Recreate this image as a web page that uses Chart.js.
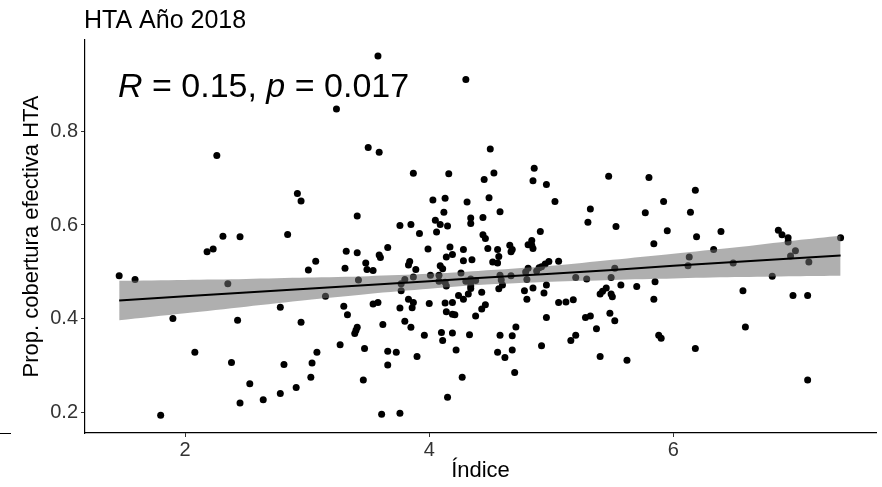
<!DOCTYPE html>
<html>
<head>
<meta charset="utf-8">
<script src="https://cdn.jsdelivr.net/npm/chart.js@4.4.1/dist/chart.umd.min.js"></script>
<style>
  html, body { margin: 0; padding: 0; background: #ffffff; }
  #wrap { width: 882px; height: 487px; }
</style>
</head>
<body>
<div id="wrap"><canvas id="c" width="882" height="487"></canvas></div>
<script>
// ---- data ----
const titleText = "HTA Año 2018";
const xTitle = "Índice";
const yTitle = "Prop. cobertura efectiva HTA";
const statR = "0.15";
const statP = "0.017";
const xTicks = [2, 4, 6];
const yTicks = [0.2, 0.4, 0.6, 0.8];

const indice = [
  1.46,1.59,2.26,2.31,2.45,2.18,2.23,2.35,2.78,1.90,2.43,2.08,2.38,2.81,2.53,2.45,2.64,2.78,1.80,
  3.58,4.30,3.24,3.50,3.59,3.87,4.16,2.92,2.95,4.03,4.13,4.31,4.12,3.41,4.34,
  4.34,4.05,4.09,4.15,3.76,3.85,3.92,4.06,2.84,3.99,4.17,4.28,3.66,3.32,3.41,3.59,3.60,4.19,4.14,4.28,
  4.35,3.07,3.48,3.84,3.83,4.09,4.11,3.01,3.31,3.49,3.54,3.89,4.26,4.01,4.08,3.87,3.80,3.42,4.08,4.13,
  4.14,4.30,4.34,4.34,4.38,3.77,4.34,4.34,3.77,3.15,4.24,4.32,4.28,3.83,3.87,3.86,3.54,3.58,4.00,4.13,
  4.19,3.30,3.76,3.33,4.14,4.19,4.21,4.38,3.80,2.95,3.62,3.85,3.41,3.40,3.39,3.96,4.10,4.11,4.19,4.33,
  3.27,3.47,3.08,3.66,3.73,4.22,3.90,3.04,3.66,3.03,3.46,4.27,2.91,4.15,3.61,3.76,
  4.50,4.86,4.53,4.45,4.85,4.96,5.47,5.80,4.49,5.03,5.92,4.58,5.32,5.77,4.44,
  5.30,5.53,5.95,4.91,4.44,4.46,4.48,4.56,4.66,4.68,4.67,4.81,4.84,4.84,4.85,5.84,4.52,4.56,4.57,5.06,
  4.98,4.95,4.92,4.90,4.81,4.79,4.80,4.88,5.52,4.58,4.59,4.60,4.57,4.67,5.20,5.29,5.49,5.85,5.57,5.70,
  4.78,4.85,4.96,4.94,4.43,5.45,5.42,5.40,5.49,5.50,4.80,5.06,5.12,5.18,5.84,4.46,4.43,4.96,5.28,5.32,
  5.48,5.52,4.71,5.37,4.58,4.68,5.20,5.16,5.88,5.90,4.92,4.56,4.62,4.68,5.40,5.62,4.70,
  6.18,6.14,6.19,6.39,6.86,6.89,6.94,6.94,7.37,6.33,6.13,6.12,6.49,7.00,6.96,7.11,6.81,6.57,6.98,7.10,
  6.59,6.18,7.10
];
const cobertura = [
  0.492,0.484,0.748,0.576,0.575,0.543,0.549,0.475,0.425,0.401,0.397,0.329,0.307,0.303,0.262,0.221,0.228,0.241,0.195,
  0.960,0.910,0.847,0.765,0.755,0.710,0.709,0.667,0.651,0.653,0.657,0.649,0.627,0.619,0.615,
  0.603,0.610,0.601,0.598,0.599,0.601,0.582,0.585,0.580,0.549,0.553,0.548,0.552,0.544,0.541,0.536,0.531,0.537,0.532,0.524,
  0.526,0.523,0.519,0.522,0.515,0.513,0.507,0.504,0.508,0.505,0.503,0.505,0.498,0.493,0.493,0.489,0.484,0.483,0.480,0.478,
  0.470,0.480,0.485,0.478,0.482,0.475,0.470,0.465,0.460,0.448,0.450,0.453,0.442,0.442,0.435,0.424,0.432,0.435,0.433,0.434,
  0.435,0.427,0.423,0.409,0.415,0.410,0.409,0.406,0.395,0.393,0.388,0.382,0.382,0.376,0.369,0.365,0.371,0.354,0.370,0.366,
  0.345,0.337,0.329,0.331,0.329,0.334,0.320,0.306,0.302,0.276,0.270,0.276,0.254,0.233,0.197,0.199,
  0.762,0.721,0.711,0.697,0.694,0.686,0.704,0.701,0.658,0.650,0.650,0.628,0.634,0.626,0.616,
  0.606,0.597,0.588,0.586,0.579,0.571,0.550,0.548,0.557,0.548,0.543,0.558,0.567,0.557,0.550,0.560,0.521,0.519,0.533,0.523,
  0.522,0.517,0.511,0.509,0.508,0.500,0.484,0.502,0.508,0.493,0.483,0.472,0.464,0.492,0.488,0.485,0.488,0.479,0.472,0.469,
  0.460,0.466,0.472,0.455,0.457,0.466,0.459,0.453,0.453,0.447,0.442,0.435,0.436,0.441,0.442,0.430,0.421,0.403,0.403,0.406,
  0.412,0.396,0.383,0.379,0.365,0.364,0.365,0.354,0.365,0.359,0.343,0.329,0.318,0.334,0.320,0.312,0.286,
  0.674,0.627,0.575,0.586,0.589,0.579,0.573,0.564,0.573,0.548,0.532,0.513,0.519,0.545,0.534,0.521,0.491,0.460,0.450,0.450,
  0.383,0.337,0.270
];

// fitted regression line and its confidence band
const fitX     = [1.46, 2.0, 2.5, 3.0, 3.5, 4.0, 4.4, 5.0, 5.5, 6.0, 6.5, 7.0, 7.37];
const fitY     = [0.439, 0.448, 0.456, 0.464, 0.472, 0.480, 0.487, 0.496, 0.504, 0.513, 0.521, 0.529, 0.535];
const bandLow  = [0.397, 0.412, 0.426, 0.440, 0.453, 0.464, 0.472, 0.479, 0.483, 0.486, 0.489, 0.491, 0.492];
const bandHigh = [0.481, 0.483, 0.485, 0.488, 0.491, 0.496, 0.502, 0.513, 0.526, 0.539, 0.552, 0.567, 0.577];

// ---- build chart ----
const FONT = "'Liberation Sans', Arial, Helvetica, sans-serif";
const pts = indice.map((x, i) => ({x: x, y: cobertura[i]}));
const toXY = (ys) => fitX.map((x, i) => ({x: x, y: ys[i]}));

const overlay = {
  id: 'overlay',
  afterDraw(chart) {
    const ctx = chart.ctx;
    ctx.save();
    // title
    ctx.fillStyle = '#000000';
    ctx.textBaseline = 'alphabetic';
    ctx.textAlign = 'left';
    ctx.font = '25px ' + FONT;
    ctx.fillText(titleText, 84, 28);
    // correlation annotation with italic R and p
    const size = 34;
    const parts = [
      ['R', true], [' = ' + statR + ', ', false], ['p', true], [' = ' + statP, false]
    ];
    let x = 118;
    const y = 97;
    parts.forEach(([t, it]) => {
      ctx.font = (it ? 'italic ' : '') + size + 'px ' + FONT;
      ctx.fillText(t, x, y);
      x += ctx.measureText(t).width;
    });
    // small stray line at left edge of the original figure
    ctx.strokeStyle = '#000000';
    ctx.lineWidth = 1;
    ctx.beginPath();
    ctx.moveTo(0, 433.5);
    ctx.lineTo(11, 433.5);
    ctx.stroke();
    ctx.restore();
  }
};

new Chart(document.getElementById('c'), {
  type: 'scatter',
  data: {
    datasets: [
      {
        type: 'line',
        label: 'fit',
        data: toXY(fitY),
        borderColor: '#000000',
        borderWidth: 2,
        pointRadius: 0,
        fill: false,
        tension: 0,
        order: 1
      },
      {
        type: 'line',
        label: 'low',
        data: toXY(bandLow),
        borderWidth: 0,
        borderColor: 'rgba(0,0,0,0)',
        pointRadius: 0,
        fill: false,
        tension: 0.3,
        order: 2
      },
      {
        type: 'line',
        label: 'high',
        data: toXY(bandHigh),
        borderWidth: 0,
        borderColor: 'rgba(0,0,0,0)',
        backgroundColor: 'rgba(110,110,110,0.55)',
        pointRadius: 0,
        fill: '-1',
        tension: 0.3,
        order: 2
      },
      {
        label: 'points',
        data: pts,
        pointRadius: 3.5,
        pointHoverRadius: 3.5,
        pointBackgroundColor: '#000000',
        pointBorderColor: '#000000',
        pointBorderWidth: 0,
        order: 3
      }
    ]
  },
  options: {
    responsive: false,
    devicePixelRatio: 1,
    animation: false,
    events: [],
    layout: { padding: { top: 40, right: 6, bottom: 0, left: 0 } },
    plugins: {
      legend: { display: false },
      tooltip: { enabled: false },
      title: { display: false }
    },
    scales: {
      x: {
        type: 'linear',
        min: 1.18,
        max: 7.66,
        afterFit(s) { s.height = 54; },
        afterBuildTicks(s) { s.ticks = xTicks.map(v => ({value: v})); },
        ticks: {
          color: '#333333',
          font: { family: FONT, size: 20 },
          padding: 1,
          callback: (v) => String(v)
        },
        grid: { drawOnChartArea: false, drawTicks: true, tickLength: 4, color: '#333333', lineWidth: 1 },
        border: { display: true, color: '#000000', width: 1.2 },
        title: {
          display: true,
          text: xTitle,
          color: '#000000',
          font: { family: FONT, size: 22, lineHeight: 1 },
          padding: { top: 0, bottom: 5 }
        }
      },
      y: {
        type: 'linear',
        min: 0.157,
        max: 0.994,
        afterFit(s) { s.width = 85; },
        afterBuildTicks(s) { s.ticks = yTicks.map(v => ({value: v})); },
        ticks: {
          color: '#333333',
          font: { family: FONT, size: 20 },
          padding: 3,
          callback: (v) => Number(v).toFixed(1)
        },
        grid: { drawOnChartArea: false, drawTicks: true, tickLength: 4, color: '#333333', lineWidth: 1 },
        border: { display: true, color: '#000000', width: 1.2 },
        title: {
          display: true,
          text: yTitle,
          color: '#000000',
          font: { family: FONT, size: 22, lineHeight: 1 },
          padding: { top: 21, bottom: 0 }
        }
      }
    }
  },
  plugins: [overlay]
});
</script>
</body>
</html>
